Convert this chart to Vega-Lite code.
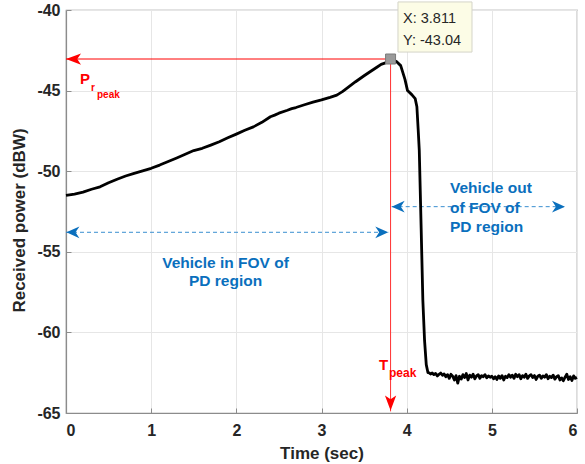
{
  "$schema": "https://vega.github.io/schema/vega-lite/v6.json",
  "width": 511,
  "height": 403,
  "autosize": {"type": "none"},
  "padding": {"left": 66, "top": 10, "right": 8, "bottom": 51},
  "background": "white",
  "config": {
    "view": {"stroke": "#8c8c8c", "strokeWidth": 1.2},
    "font": "Liberation Sans",
    "axis": {
      "labelFont": "Liberation Sans", "labelFontSize": 16, "labelFontWeight": "bold", "labelColor": "#262626",
      "titleFont": "Liberation Sans", "titleFontSize": 17, "titleFontWeight": "bold", "titleColor": "#262626",
      "domainColor": "#8c8c8c", "domainWidth": 1.2, "tickColor": "#8c8c8c", "tickSize": -5, "tickWidth": 1,
      "gridColor": "#e6e6e6", "gridWidth": 1, "grid": true
    }
  },
  "encoding": {
    "x": {"field": "t", "type": "quantitative", "scale": {"domain": [0, 6], "nice": false},
      "axis": {"values": [0, 1, 2, 3, 4, 5, 6], "labelExpr": "'' + datum.value", "title": "Time (sec)", "labelPadding": 14, "titleY": 45, "titleBaseline": "alphabetic"}},
    "y": {"field": "v", "type": "quantitative", "scale": {"domain": [-65, -40], "nice": false},
      "axis": {"values": [-65, -60, -55, -50, -45, -40], "labelExpr": "'' + datum.value", "title": "Received power (dBW)", "labelPadding": 11, "titleX": -38, "titleY": 210, "titleBaseline": "bottom"}}
  },
  "layer": [
    {
      "data": {"values": [{"t": 0, "t2": 3.811, "v": -43.04}]},
      "mark": {"type": "rule", "color": "#ff0000", "strokeWidth": 1},
      "encoding": {"x2": {"field": "t2"}}
    },
    {
      "data": {"values": [{"t": 3.811, "v": -43.04, "v2": -64.9}]},
      "mark": {"type": "rule", "color": "#ff3030", "strokeWidth": 1},
      "encoding": {"y2": {"field": "v2"}}
    },
    {
      "data": {"values": [{"t": 0, "t2": 3.784, "v": -53.79}, {"t": 3.824, "t2": 5.859, "v": -52.2}]},
      "mark": {"type": "rule", "color": "#3a8fd0", "strokeWidth": 1, "strokeDash": [4, 3]},
      "encoding": {"x2": {"field": "t2"}}
    },
    {
      "data": {"values": [
        {"t":0.00,"v":-51.50},{"t":0.10,"v":-51.42},{"t":0.20,"v":-51.30},{"t":0.30,"v":-51.12},{"t":0.40,"v":-50.97},
        {"t":0.50,"v":-50.72},{"t":0.60,"v":-50.50},{"t":0.70,"v":-50.30},{"t":0.80,"v":-50.13},{"t":0.90,"v":-49.98},
        {"t":1.00,"v":-49.82},{"t":1.10,"v":-49.62},{"t":1.20,"v":-49.40},{"t":1.30,"v":-49.18},{"t":1.40,"v":-48.95},
        {"t":1.50,"v":-48.72},{"t":1.60,"v":-48.58},{"t":1.70,"v":-48.38},{"t":1.80,"v":-48.17},{"t":1.90,"v":-47.93},
        {"t":2.00,"v":-47.70},{"t":2.10,"v":-47.46},{"t":2.20,"v":-47.25},{"t":2.30,"v":-46.97},{"t":2.40,"v":-46.62},
        {"t":2.45,"v":-46.52},{"t":2.50,"v":-46.40},{"t":2.60,"v":-46.22},{"t":2.65,"v":-46.12},{"t":2.70,"v":-46.05},
        {"t":2.80,"v":-45.88},{"t":2.90,"v":-45.72},{"t":3.00,"v":-45.58},{"t":3.10,"v":-45.42},{"t":3.18,"v":-45.28},
        {"t":3.25,"v":-45.05},{"t":3.30,"v":-44.85},{"t":3.40,"v":-44.45},{"t":3.50,"v":-44.08},{"t":3.57,"v":-43.83},
        {"t":3.65,"v":-43.55},{"t":3.70,"v":-43.37},{"t":3.75,"v":-43.28},{"t":3.811,"v":-43.04},{"t":3.88,"v":-43.20},
        {"t":3.93,"v":-43.45},{"t":3.98,"v":-44.30},{"t":4.01,"v":-45.00},{"t":4.06,"v":-45.25},{"t":4.10,"v":-45.50},
        {"t":4.12,"v":-46.00},{"t":4.135,"v":-47.4},{"t":4.148,"v":-48.7},{"t":4.17,"v":-53.5},{"t":4.19,"v":-58.0},
        {"t":4.21,"v":-60.5},{"t":4.23,"v":-62.0},{"t":4.25,"v":-62.5},
        {"t":4.26,"v":-62.50},{"t":4.28,"v":-62.58},{"t":4.30,"v":-62.52},{"t":4.32,"v":-62.62},{"t":4.34,"v":-62.55},
        {"t":4.36,"v":-62.70},{"t":4.38,"v":-62.60},{"t":4.40,"v":-62.52},{"t":4.42,"v":-62.66},{"t":4.44,"v":-62.58},
        {"t":4.46,"v":-62.75},{"t":4.48,"v":-62.62},{"t":4.50,"v":-62.85},{"t":4.52,"v":-62.60},{"t":4.54,"v":-62.72},
        {"t":4.56,"v":-62.95},{"t":4.58,"v":-62.68},{"t":4.60,"v":-63.15},{"t":4.62,"v":-62.72},{"t":4.64,"v":-62.90},
        {"t":4.66,"v":-62.62},{"t":4.68,"v":-62.80},{"t":4.70,"v":-62.55},{"t":4.72,"v":-62.95},{"t":4.74,"v":-62.65},
        {"t":4.76,"v":-62.78},{"t":4.78,"v":-62.60},{"t":4.80,"v":-62.88},{"t":4.82,"v":-62.70},{"t":4.84,"v":-62.62},
        {"t":4.86,"v":-62.85},{"t":4.88,"v":-62.68},{"t":4.90,"v":-62.75},{"t":4.92,"v":-62.62},{"t":4.94,"v":-62.82},
        {"t":4.96,"v":-62.70},{"t":4.98,"v":-62.78},{"t":5.00,"v":-62.72},{"t":5.02,"v":-62.88},{"t":5.04,"v":-62.75},
        {"t":5.06,"v":-62.92},{"t":5.08,"v":-62.70},{"t":5.10,"v":-62.85},{"t":5.12,"v":-62.68},{"t":5.14,"v":-62.95},
        {"t":5.16,"v":-62.72},{"t":5.18,"v":-62.80},{"t":5.20,"v":-62.62},{"t":5.22,"v":-62.78},{"t":5.24,"v":-62.65},
        {"t":5.26,"v":-62.85},{"t":5.28,"v":-62.60},{"t":5.30,"v":-62.75},{"t":5.32,"v":-62.62},{"t":5.34,"v":-62.88},
        {"t":5.36,"v":-62.68},{"t":5.38,"v":-62.78},{"t":5.40,"v":-62.60},{"t":5.42,"v":-62.85},{"t":5.44,"v":-62.70},
        {"t":5.46,"v":-62.62},{"t":5.48,"v":-62.80},{"t":5.50,"v":-62.68},{"t":5.52,"v":-62.92},{"t":5.54,"v":-62.72},
        {"t":5.56,"v":-62.65},{"t":5.58,"v":-62.85},{"t":5.60,"v":-62.70},{"t":5.62,"v":-62.78},{"t":5.64,"v":-62.62},
        {"t":5.66,"v":-62.88},{"t":5.68,"v":-62.72},{"t":5.70,"v":-62.80},{"t":5.72,"v":-62.65},{"t":5.74,"v":-62.90},
        {"t":5.76,"v":-62.75},{"t":5.78,"v":-62.68},{"t":5.80,"v":-62.95},{"t":5.82,"v":-62.82},{"t":5.84,"v":-63.00},
        {"t":5.86,"v":-62.78},{"t":5.88,"v":-62.60},{"t":5.90,"v":-62.92},{"t":5.92,"v":-62.75},{"t":5.94,"v":-62.98},
        {"t":5.96,"v":-62.70},{"t":5.98,"v":-62.85},{"t":6.00,"v":-62.80}
      ]},
      "mark": {"type": "line", "color": "#000000", "strokeWidth": 2.8, "strokeJoin": "round"},
      "encoding": {}
    },
    {
      "data": {"values": [{"t": 0, "v": -43.04}]},
      "mark": {"type": "point", "shape": "M0,0 L2,-0.75 L1.5,0 L2,0.75 Z", "size": 225, "filled": true, "fill": "#ff0000", "strokeWidth": 0, "opacity": 1},
      "encoding": {}
    },
    {
      "data": {"values": [{"t": 3.811, "v": -64.85}]},
      "mark": {"type": "point", "shape": "M0,0 L-0.75,-2 L0,-1.5 L0.75,-2 Z", "size": 225, "filled": true, "fill": "#ff0000", "strokeWidth": 0, "opacity": 1},
      "encoding": {}
    },
    {
      "data": {"values": [{"t": 0.005, "v": -53.79}, {"t": 3.824, "v": -52.2}]},
      "mark": {"type": "point", "shape": "M0,0 L2,-0.9 L1.4,0 L2,0.9 Z", "size": 169, "filled": true, "fill": "#0a6fbd", "strokeWidth": 0, "opacity": 1},
      "encoding": {}
    },
    {
      "data": {"values": [{"t": 3.784, "v": -53.79}, {"t": 5.859, "v": -52.2}]},
      "mark": {"type": "point", "shape": "M0,0 L-2,-0.9 L-1.4,0 L-2,0.9 Z", "size": 169, "filled": true, "fill": "#0a6fbd", "strokeWidth": 0, "opacity": 1},
      "encoding": {}
    },
    {
      "data": {"values": [{"t": 3.898, "t2": 4.767, "v": -39.5, "v2": -42.61}]},
      "mark": {"type": "rect", "fill": "#fcfce6", "stroke": "#d4d4c8", "strokeWidth": 1},
      "encoding": {"x2": {"field": "t2"}, "y2": {"field": "v2"}}
    },
    {
      "data": {"values": [{"t": 3.957, "v": -40.83, "label": "X: 3.811"}, {"t": 3.957, "v": -42.17, "label": "Y: -43.04"}]},
      "mark": {"type": "text", "align": "left", "baseline": "alphabetic", "font": "Liberation Sans", "fontSize": 14.5, "color": "#262626"},
      "encoding": {"text": {"field": "label"}}
    },
    {
      "data": {"values": [{"t": 3.811, "v": -43.04}]},
      "mark": {"type": "point", "shape": "square", "size": 100, "filled": true, "fill": "#9a9a9a", "stroke": "#7a7a7a", "strokeWidth": 1, "opacity": 1},
      "encoding": {}
    },
    {
      "data": {"values": [{"t": 0.164, "v": -44.56, "label": "P"}, {"t": 3.675, "v": -62.33, "label": "T"}]},
      "mark": {"type": "text", "align": "left", "baseline": "alphabetic", "font": "Liberation Sans", "fontSize": 15, "fontWeight": "bold", "color": "#ff0000"},
      "encoding": {"text": {"field": "label"}}
    },
    {
      "data": {"values": [{"t": 0.294, "v": -45.02, "label": "r"}, {"t": 0.364, "v": -45.49, "label": "peak"}]},
      "mark": {"type": "text", "align": "left", "baseline": "alphabetic", "font": "Liberation Sans", "fontSize": 10, "fontWeight": "bold", "color": "#ff0000"},
      "encoding": {"text": {"field": "label"}}
    },
    {
      "data": {"values": [{"t": 3.792, "v": -62.79, "label": "peak"}]},
      "mark": {"type": "text", "align": "left", "baseline": "alphabetic", "font": "Liberation Sans", "fontSize": 12, "fontWeight": "bold", "color": "#ff0000"},
      "encoding": {"text": {"field": "label"}}
    },
    {
      "data": {"values": [{"t": 1.873, "v": -56.02, "label": "Vehicle in FOV of"}, {"t": 1.873, "v": -57.12, "label": "PD region"}]},
      "mark": {"type": "text", "align": "center", "baseline": "alphabetic", "font": "Liberation Sans", "fontSize": 15.5, "fontWeight": "bold", "color": "#0a6fbd"},
      "encoding": {"text": {"field": "label"}}
    },
    {
      "data": {"values": [{"t": 4.509, "v": -51.37, "label": "Vehicle out"}, {"t": 4.509, "v": -52.61, "label": "of FOV of"}, {"t": 4.509, "v": -53.80, "label": "PD region"}]},
      "mark": {"type": "text", "align": "left", "baseline": "alphabetic", "font": "Liberation Sans", "fontSize": 15.5, "fontWeight": "bold", "color": "#0a6fbd"},
      "encoding": {"text": {"field": "label"}}
    }
  ]
}
